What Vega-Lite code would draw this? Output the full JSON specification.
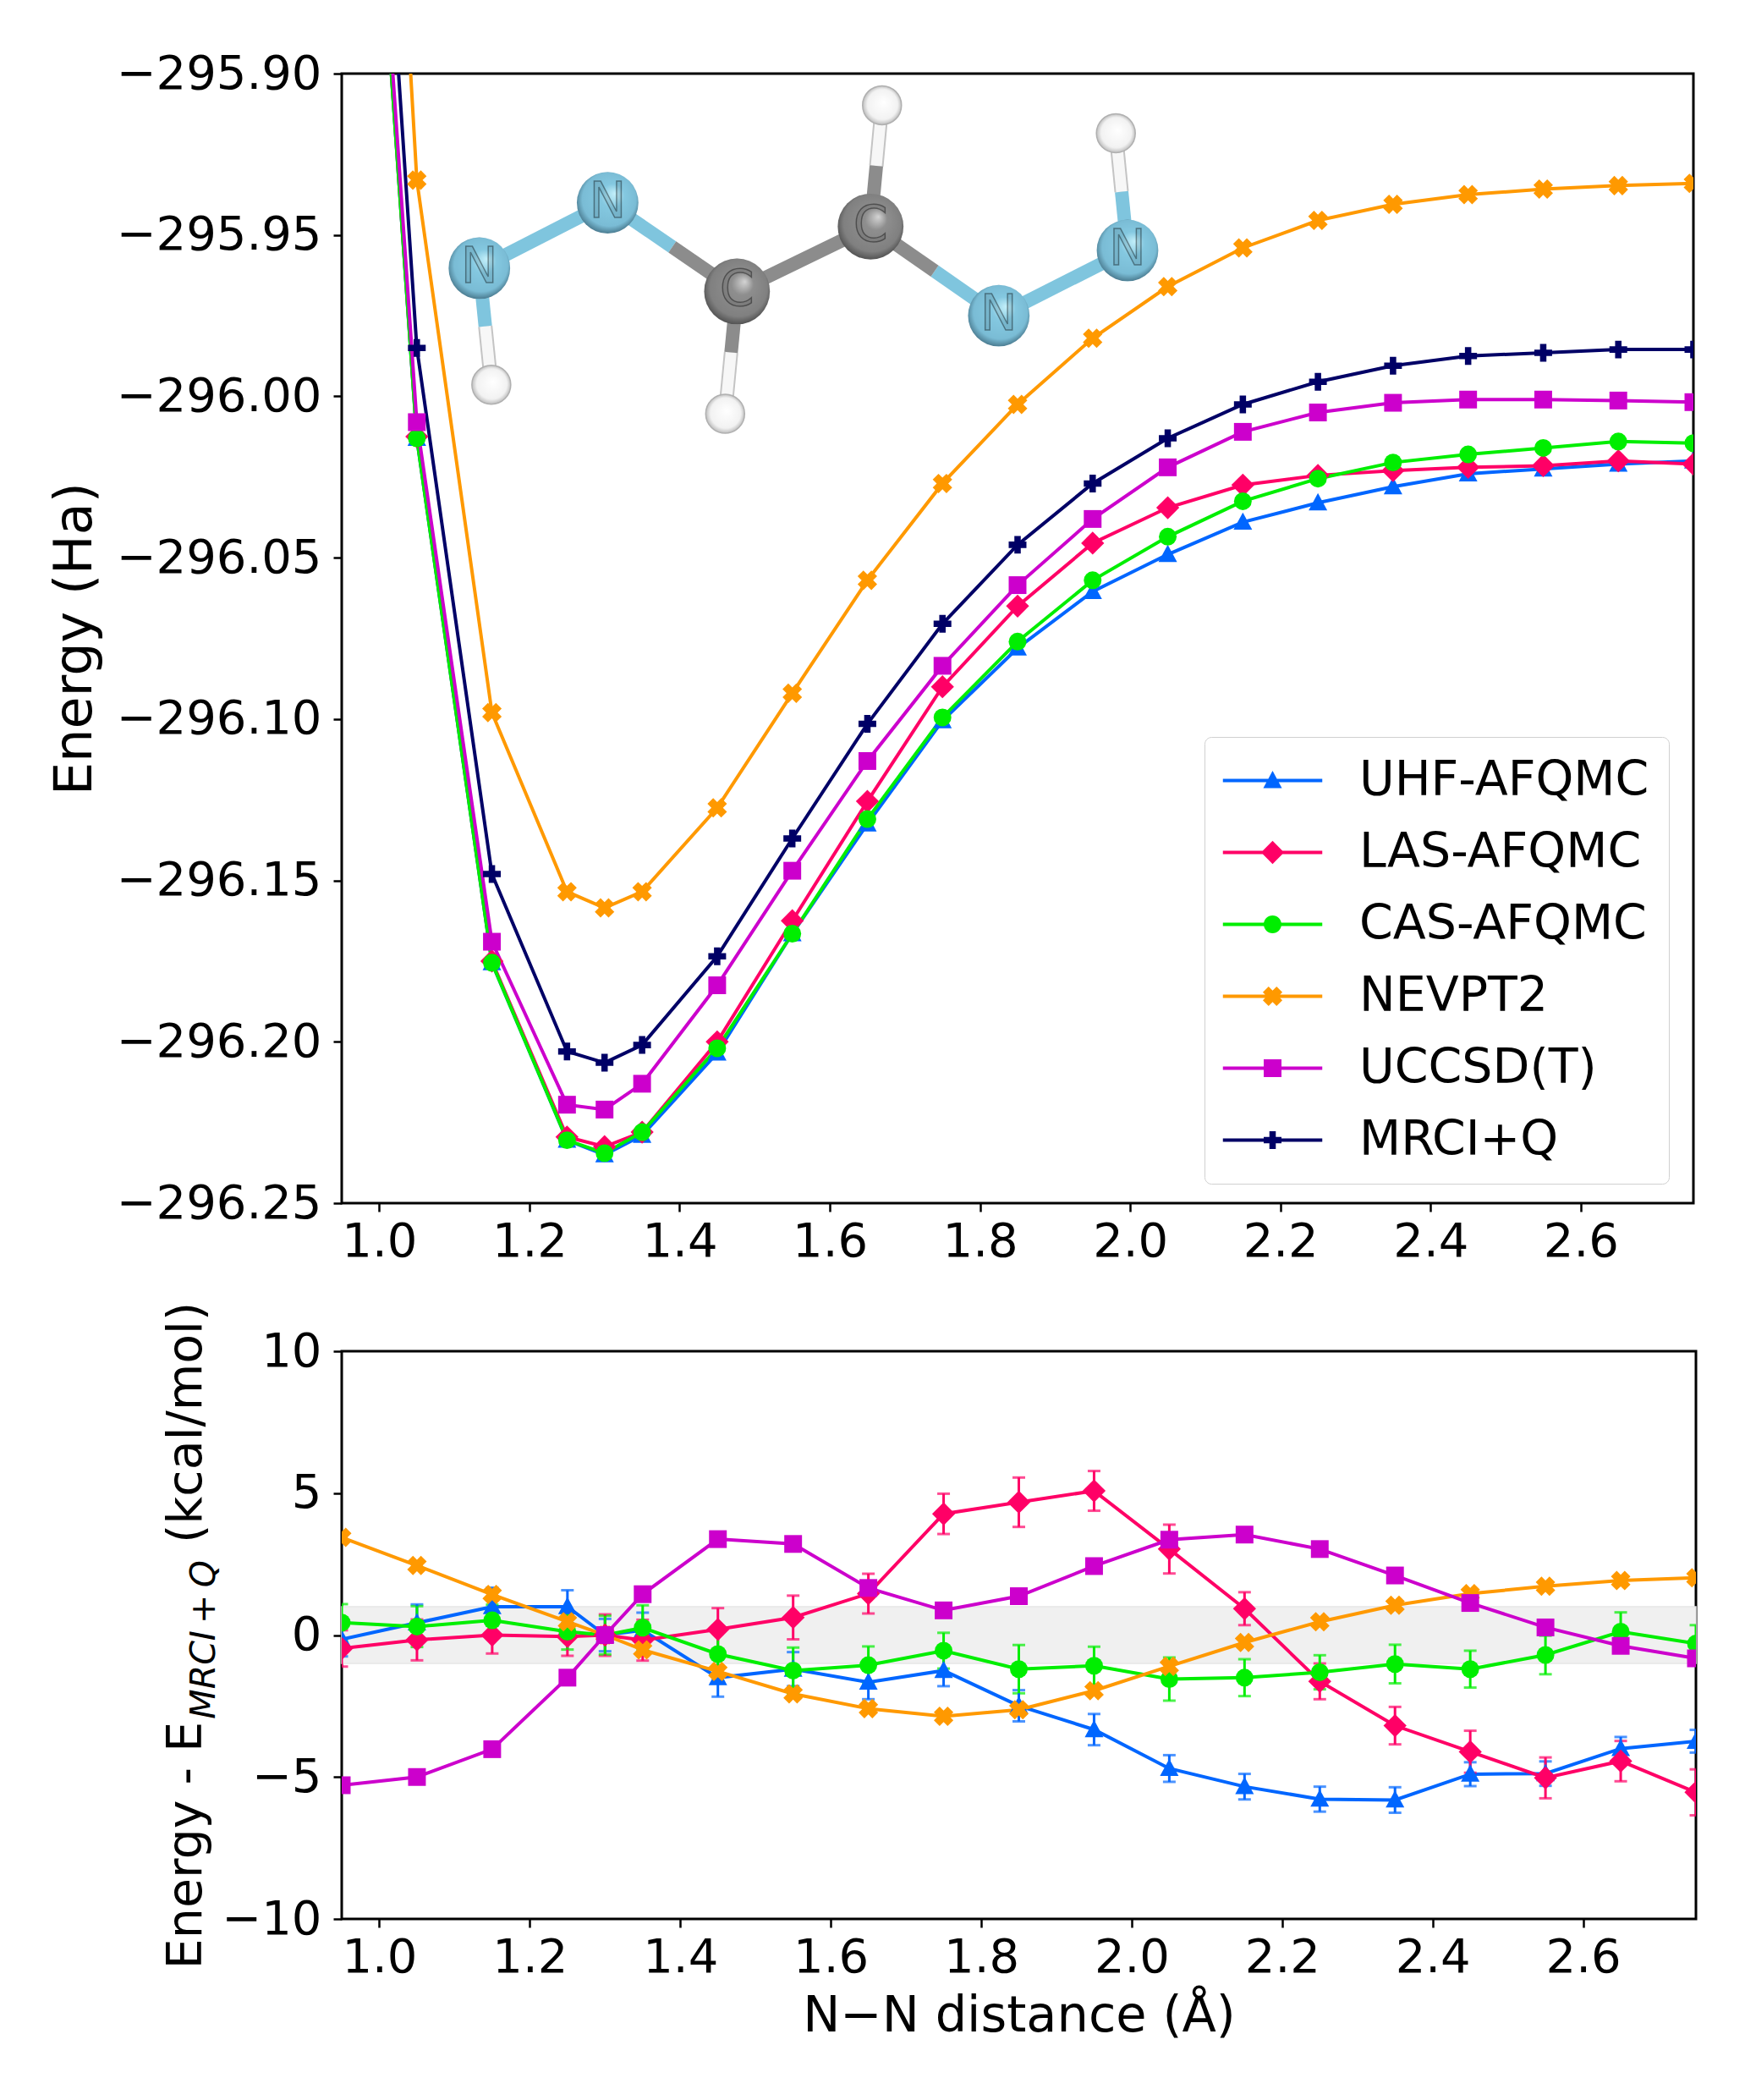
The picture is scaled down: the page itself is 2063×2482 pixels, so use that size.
{
  "$schema": "https://vega.github.io/schema/vega-lite/v6.json",
  "description": "N-N distance scan of HNNCHCHNNH: total energies and errors against MRCI+Q",
  "background": "white",
  "padding": {"left": 55, "top": 57, "right": 0, "bottom": 0},
  "spacing": 39,
  "config": {
    "font": "DejaVu Sans",
    "view": {"stroke": "black", "strokeWidth": 3},
    "axis": {
      "grid": false, "domain": false,
      "tickColor": "black", "tickSize": 10, "tickWidth": 2.5,
      "labelColor": "black", "labelFontSize": 56, "labelFlush": false, "labelOverlap": false, "labelLimit": 500, "maxExtent": 500,
      "titleColor": "black", "titleFontWeight": "normal", "titleLimit": 1200
    },
    "axisX": {"labelPadding": 8},
    "axisY": {"labelPadding": 14}
  },
  "datasets": {
    "energy": [
      {"method":"UHF-AFQMC","r":0.95,"energy":-295.68},{"method":"UHF-AFQMC","r":1.05,"energy":-296.013},{"method":"UHF-AFQMC","r":1.15,"energy":-296.1755},{"method":"UHF-AFQMC","r":1.25,"energy":-296.2305},{"method":"UHF-AFQMC","r":1.3,"energy":-296.235},{"method":"UHF-AFQMC","r":1.35,"energy":-296.229},{"method":"UHF-AFQMC","r":1.45,"energy":-296.2035},{"method":"UHF-AFQMC","r":1.55,"energy":-296.1665},{"method":"UHF-AFQMC","r":1.65,"energy":-296.1325},{"method":"UHF-AFQMC","r":1.75,"energy":-296.1005},{"method":"UHF-AFQMC","r":1.85,"energy":-296.078},{"method":"UHF-AFQMC","r":1.95,"energy":-296.0605},{"method":"UHF-AFQMC","r":2.05,"energy":-296.049},{"method":"UHF-AFQMC","r":2.15,"energy":-296.039},{"method":"UHF-AFQMC","r":2.25,"energy":-296.033},{"method":"UHF-AFQMC","r":2.35,"energy":-296.028},{"method":"UHF-AFQMC","r":2.45,"energy":-296.024},{"method":"UHF-AFQMC","r":2.55,"energy":-296.0225},{"method":"UHF-AFQMC","r":2.65,"energy":-296.021},{"method":"UHF-AFQMC","r":2.75,"energy":-296.02},
      {"method":"LAS-AFQMC","r":0.95,"energy":-295.68},{"method":"LAS-AFQMC","r":1.05,"energy":-296.0125},{"method":"LAS-AFQMC","r":1.15,"energy":-296.175},{"method":"LAS-AFQMC","r":1.25,"energy":-296.2295},{"method":"LAS-AFQMC","r":1.3,"energy":-296.2325},{"method":"LAS-AFQMC","r":1.35,"energy":-296.228},{"method":"LAS-AFQMC","r":1.45,"energy":-296.2},{"method":"LAS-AFQMC","r":1.55,"energy":-296.1625},{"method":"LAS-AFQMC","r":1.65,"energy":-296.1255},{"method":"LAS-AFQMC","r":1.75,"energy":-296.09},{"method":"LAS-AFQMC","r":1.85,"energy":-296.065},{"method":"LAS-AFQMC","r":1.95,"energy":-296.0455},{"method":"LAS-AFQMC","r":2.05,"energy":-296.0345},{"method":"LAS-AFQMC","r":2.15,"energy":-296.0275},{"method":"LAS-AFQMC","r":2.25,"energy":-296.0245},{"method":"LAS-AFQMC","r":2.35,"energy":-296.023},{"method":"LAS-AFQMC","r":2.45,"energy":-296.022},{"method":"LAS-AFQMC","r":2.55,"energy":-296.0215},{"method":"LAS-AFQMC","r":2.65,"energy":-296.02},{"method":"LAS-AFQMC","r":2.75,"energy":-296.021},
      {"method":"CAS-AFQMC","r":0.95,"energy":-295.68},{"method":"CAS-AFQMC","r":1.05,"energy":-296.013},{"method":"CAS-AFQMC","r":1.15,"energy":-296.1755},{"method":"CAS-AFQMC","r":1.25,"energy":-296.2305},{"method":"CAS-AFQMC","r":1.3,"energy":-296.2345},{"method":"CAS-AFQMC","r":1.35,"energy":-296.228},{"method":"CAS-AFQMC","r":1.45,"energy":-296.202},{"method":"CAS-AFQMC","r":1.55,"energy":-296.1665},{"method":"CAS-AFQMC","r":1.65,"energy":-296.131},{"method":"CAS-AFQMC","r":1.75,"energy":-296.0995},{"method":"CAS-AFQMC","r":1.85,"energy":-296.076},{"method":"CAS-AFQMC","r":1.95,"energy":-296.057},{"method":"CAS-AFQMC","r":2.05,"energy":-296.0435},{"method":"CAS-AFQMC","r":2.15,"energy":-296.0325},{"method":"CAS-AFQMC","r":2.25,"energy":-296.0255},{"method":"CAS-AFQMC","r":2.35,"energy":-296.0205},{"method":"CAS-AFQMC","r":2.45,"energy":-296.018},{"method":"CAS-AFQMC","r":2.55,"energy":-296.016},{"method":"CAS-AFQMC","r":2.65,"energy":-296.014},{"method":"CAS-AFQMC","r":2.75,"energy":-296.0145},
      {"method":"NEVPT2","r":0.95,"energy":-295.53},{"method":"NEVPT2","r":1.05,"energy":-295.933},{"method":"NEVPT2","r":1.15,"energy":-296.098},{"method":"NEVPT2","r":1.25,"energy":-296.1535},{"method":"NEVPT2","r":1.3,"energy":-296.1585},{"method":"NEVPT2","r":1.35,"energy":-296.1535},{"method":"NEVPT2","r":1.45,"energy":-296.1275},{"method":"NEVPT2","r":1.55,"energy":-296.092},{"method":"NEVPT2","r":1.65,"energy":-296.057},{"method":"NEVPT2","r":1.75,"energy":-296.027},{"method":"NEVPT2","r":1.85,"energy":-296.0025},{"method":"NEVPT2","r":1.95,"energy":-295.982},{"method":"NEVPT2","r":2.05,"energy":-295.966},{"method":"NEVPT2","r":2.15,"energy":-295.954},{"method":"NEVPT2","r":2.25,"energy":-295.9455},{"method":"NEVPT2","r":2.35,"energy":-295.9405},{"method":"NEVPT2","r":2.45,"energy":-295.9375},{"method":"NEVPT2","r":2.55,"energy":-295.9358},{"method":"NEVPT2","r":2.65,"energy":-295.9347},{"method":"NEVPT2","r":2.75,"energy":-295.934},
      {"method":"UCCSD(T)","r":0.95,"energy":-295.67},{"method":"UCCSD(T)","r":1.05,"energy":-296.008},{"method":"UCCSD(T)","r":1.15,"energy":-296.169},{"method":"UCCSD(T)","r":1.25,"energy":-296.2195},{"method":"UCCSD(T)","r":1.3,"energy":-296.221},{"method":"UCCSD(T)","r":1.35,"energy":-296.213},{"method":"UCCSD(T)","r":1.45,"energy":-296.1825},{"method":"UCCSD(T)","r":1.55,"energy":-296.147},{"method":"UCCSD(T)","r":1.65,"energy":-296.113},{"method":"UCCSD(T)","r":1.75,"energy":-296.0835},{"method":"UCCSD(T)","r":1.85,"energy":-296.0585},{"method":"UCCSD(T)","r":1.95,"energy":-296.038},{"method":"UCCSD(T)","r":2.05,"energy":-296.022},{"method":"UCCSD(T)","r":2.15,"energy":-296.011},{"method":"UCCSD(T)","r":2.25,"energy":-296.005},{"method":"UCCSD(T)","r":2.35,"energy":-296.002},{"method":"UCCSD(T)","r":2.45,"energy":-296.001},{"method":"UCCSD(T)","r":2.55,"energy":-296.001},{"method":"UCCSD(T)","r":2.65,"energy":-296.0013},{"method":"UCCSD(T)","r":2.75,"energy":-296.0018},
      {"method":"MRCI+Q","r":0.95,"energy":-295.635},{"method":"MRCI+Q","r":1.05,"energy":-295.985},{"method":"MRCI+Q","r":1.15,"energy":-296.148},{"method":"MRCI+Q","r":1.25,"energy":-296.203},{"method":"MRCI+Q","r":1.3,"energy":-296.2065},{"method":"MRCI+Q","r":1.35,"energy":-296.201},{"method":"MRCI+Q","r":1.45,"energy":-296.1735},{"method":"MRCI+Q","r":1.55,"energy":-296.137},{"method":"MRCI+Q","r":1.65,"energy":-296.1015},{"method":"MRCI+Q","r":1.75,"energy":-296.0705},{"method":"MRCI+Q","r":1.85,"energy":-296.046},{"method":"MRCI+Q","r":1.95,"energy":-296.027},{"method":"MRCI+Q","r":2.05,"energy":-296.013},{"method":"MRCI+Q","r":2.15,"energy":-296.0025},{"method":"MRCI+Q","r":2.25,"energy":-295.9955},{"method":"MRCI+Q","r":2.35,"energy":-295.9905},{"method":"MRCI+Q","r":2.45,"energy":-295.9875},{"method":"MRCI+Q","r":2.55,"energy":-295.9865},{"method":"MRCI+Q","r":2.65,"energy":-295.9855},{"method":"MRCI+Q","r":2.75,"energy":-295.9855}
    ],
    "relative": [
      {"method":"UHF-AFQMC","r":0.95,"delta":-0.15,"err":0.6},{"method":"UHF-AFQMC","r":1.05,"delta":0.43,"err":0.65},{"method":"UHF-AFQMC","r":1.15,"delta":1.0,"err":0.67},{"method":"UHF-AFQMC","r":1.25,"delta":1.0,"err":0.58},{"method":"UHF-AFQMC","r":1.3,"delta":0,"err":0.57},{"method":"UHF-AFQMC","r":1.35,"delta":0.17,"err":0.62},{"method":"UHF-AFQMC","r":1.45,"delta":-1.5,"err":0.67},{"method":"UHF-AFQMC","r":1.55,"delta":-1.2,"err":0.6},{"method":"UHF-AFQMC","r":1.65,"delta":-1.66,"err":0.6},{"method":"UHF-AFQMC","r":1.75,"delta":-1.25,"err":0.55},{"method":"UHF-AFQMC","r":1.85,"delta":-2.49,"err":0.55},{"method":"UHF-AFQMC","r":1.95,"delta":-3.33,"err":0.55},{"method":"UHF-AFQMC","r":2.05,"delta":-4.7,"err":0.47},{"method":"UHF-AFQMC","r":2.15,"delta":-5.34,"err":0.45},{"method":"UHF-AFQMC","r":2.25,"delta":-5.78,"err":0.44},{"method":"UHF-AFQMC","r":2.35,"delta":-5.81,"err":0.45},{"method":"UHF-AFQMC","r":2.45,"delta":-4.9,"err":0.42},{"method":"UHF-AFQMC","r":2.55,"delta":-4.88,"err":0.43},{"method":"UHF-AFQMC","r":2.65,"delta":-4.0,"err":0.41},{"method":"UHF-AFQMC","r":2.75,"delta":-3.74,"err":0.4},
      {"method":"LAS-AFQMC","r":0.95,"delta":-0.47,"err":0.64},{"method":"LAS-AFQMC","r":1.05,"delta":-0.17,"err":0.72},{"method":"LAS-AFQMC","r":1.15,"delta":0,"err":0.65},{"method":"LAS-AFQMC","r":1.25,"delta":-0.05,"err":0.68},{"method":"LAS-AFQMC","r":1.3,"delta":0,"err":0.73},{"method":"LAS-AFQMC","r":1.35,"delta":-0.18,"err":0.72},{"method":"LAS-AFQMC","r":1.45,"delta":0.2,"err":0.75},{"method":"LAS-AFQMC","r":1.55,"delta":0.62,"err":0.77},{"method":"LAS-AFQMC","r":1.65,"delta":1.46,"err":0.7},{"method":"LAS-AFQMC","r":1.75,"delta":4.27,"err":0.71},{"method":"LAS-AFQMC","r":1.85,"delta":4.68,"err":0.87},{"method":"LAS-AFQMC","r":1.95,"delta":5.08,"err":0.7},{"method":"LAS-AFQMC","r":2.05,"delta":3.03,"err":0.86},{"method":"LAS-AFQMC","r":2.15,"delta":0.93,"err":0.58},{"method":"LAS-AFQMC","r":2.25,"delta":-1.63,"err":0.63},{"method":"LAS-AFQMC","r":2.35,"delta":-3.19,"err":0.66},{"method":"LAS-AFQMC","r":2.45,"delta":-4.11,"err":0.74},{"method":"LAS-AFQMC","r":2.55,"delta":-5.03,"err":0.72},{"method":"LAS-AFQMC","r":2.65,"delta":-4.44,"err":0.71},{"method":"LAS-AFQMC","r":2.75,"delta":-5.54,"err":0.81},
      {"method":"CAS-AFQMC","r":0.95,"delta":0.44,"err":0.65},{"method":"CAS-AFQMC","r":1.05,"delta":0.3,"err":0.72},{"method":"CAS-AFQMC","r":1.15,"delta":0.52,"err":0.55},{"method":"CAS-AFQMC","r":1.25,"delta":0.12,"err":0.63},{"method":"CAS-AFQMC","r":1.3,"delta":0,"err":0.68},{"method":"CAS-AFQMC","r":1.35,"delta":0.26,"err":0.79},{"method":"CAS-AFQMC","r":1.45,"delta":-0.67,"err":0.76},{"method":"CAS-AFQMC","r":1.55,"delta":-1.25,"err":0.81},{"method":"CAS-AFQMC","r":1.65,"delta":-1.06,"err":0.66},{"method":"CAS-AFQMC","r":1.75,"delta":-0.55,"err":0.63},{"method":"CAS-AFQMC","r":1.85,"delta":-1.2,"err":0.85},{"method":"CAS-AFQMC","r":1.95,"delta":-1.08,"err":0.67},{"method":"CAS-AFQMC","r":2.05,"delta":-1.55,"err":0.76},{"method":"CAS-AFQMC","r":2.15,"delta":-1.5,"err":0.65},{"method":"CAS-AFQMC","r":2.25,"delta":-1.31,"err":0.6},{"method":"CAS-AFQMC","r":2.35,"delta":-1.02,"err":0.68},{"method":"CAS-AFQMC","r":2.45,"delta":-1.2,"err":0.65},{"method":"CAS-AFQMC","r":2.55,"delta":-0.7,"err":0.68},{"method":"CAS-AFQMC","r":2.65,"delta":0.12,"err":0.68},{"method":"CAS-AFQMC","r":2.75,"delta":-0.3,"err":0.65},
      {"method":"NEVPT2","r":0.95,"delta":3.44},{"method":"NEVPT2","r":1.05,"delta":2.45},{"method":"NEVPT2","r":1.15,"delta":1.43},{"method":"NEVPT2","r":1.25,"delta":0.47},{"method":"NEVPT2","r":1.3,"delta":0},{"method":"NEVPT2","r":1.35,"delta":-0.52},{"method":"NEVPT2","r":1.45,"delta":-1.28},{"method":"NEVPT2","r":1.55,"delta":-2.07},{"method":"NEVPT2","r":1.65,"delta":-2.59},{"method":"NEVPT2","r":1.75,"delta":-2.86},{"method":"NEVPT2","r":1.85,"delta":-2.63},{"method":"NEVPT2","r":1.95,"delta":-1.96},{"method":"NEVPT2","r":2.05,"delta":-1.1},{"method":"NEVPT2","r":2.15,"delta":-0.26},{"method":"NEVPT2","r":2.25,"delta":0.47},{"method":"NEVPT2","r":2.35,"delta":1.05},{"method":"NEVPT2","r":2.45,"delta":1.46},{"method":"NEVPT2","r":2.55,"delta":1.72},{"method":"NEVPT2","r":2.65,"delta":1.92},{"method":"NEVPT2","r":2.75,"delta":2.02},
      {"method":"UCCSD(T)","r":0.95,"delta":-5.29},{"method":"UCCSD(T)","r":1.05,"delta":-5.0},{"method":"UCCSD(T)","r":1.15,"delta":-4.02},{"method":"UCCSD(T)","r":1.25,"delta":-1.5},{"method":"UCCSD(T)","r":1.3,"delta":0},{"method":"UCCSD(T)","r":1.35,"delta":1.44},{"method":"UCCSD(T)","r":1.45,"delta":3.38},{"method":"UCCSD(T)","r":1.55,"delta":3.21},{"method":"UCCSD(T)","r":1.65,"delta":1.66},{"method":"UCCSD(T)","r":1.75,"delta":0.87},{"method":"UCCSD(T)","r":1.85,"delta":1.37},{"method":"UCCSD(T)","r":1.95,"delta":2.43},{"method":"UCCSD(T)","r":2.05,"delta":3.36},{"method":"UCCSD(T)","r":2.15,"delta":3.54},{"method":"UCCSD(T)","r":2.25,"delta":3.03},{"method":"UCCSD(T)","r":2.35,"delta":2.1},{"method":"UCCSD(T)","r":2.45,"delta":1.13},{"method":"UCCSD(T)","r":2.55,"delta":0.27},{"method":"UCCSD(T)","r":2.65,"delta":-0.38},{"method":"UCCSD(T)","r":2.75,"delta":-0.82}
    ],
    "atoms": [
      {"atom":"H","r":1.1492,"energy":-295.9964},{"atom":"H","r":1.4606,"energy":-296.0054},{"atom":"H","r":1.6695,"energy":-295.9098},{"atom":"H","r":1.9809,"energy":-295.9185},
      {"atom":"N","r":1.1333,"energy":-295.9603},{"atom":"N","r":1.3041,"energy":-295.94},{"atom":"N","r":1.825,"energy":-295.975},{"atom":"N","r":1.9964,"energy":-295.9548},
      {"atom":"C","r":1.4764,"energy":-295.9675},{"atom":"C","r":1.6543,"energy":-295.9474}
    ],
    "bonds": [
      {"atom":"N","r":1.1333,"energy":-295.9603,"r2":1.1412,"energy2":-295.9783},{"atom":"H","r":1.1412,"energy":-295.9783,"r2":1.1492,"energy2":-295.9964},
      {"atom":"N","r":1.1333,"energy":-295.9603,"r2":1.3041,"energy2":-295.94},
      {"atom":"N","r":1.3041,"energy":-295.94,"r2":1.3902,"energy2":-295.9537},{"atom":"C","r":1.3902,"energy":-295.9537,"r2":1.4764,"energy2":-295.9675},
      {"atom":"C","r":1.4764,"energy":-295.9675,"r2":1.4685,"energy2":-295.9864},{"atom":"H","r":1.4685,"energy":-295.9864,"r2":1.4606,"energy2":-296.0054},
      {"atom":"C","r":1.4764,"energy":-295.9675,"r2":1.6543,"energy2":-295.9474},
      {"atom":"C","r":1.6543,"energy":-295.9474,"r2":1.6619,"energy2":-295.9286},{"atom":"H","r":1.6619,"energy":-295.9286,"r2":1.6695,"energy2":-295.9098},
      {"atom":"C","r":1.6543,"energy":-295.9474,"r2":1.7396,"energy2":-295.9612},{"atom":"N","r":1.7396,"energy":-295.9612,"r2":1.825,"energy2":-295.975},
      {"atom":"N","r":1.825,"energy":-295.975,"r2":1.9964,"energy2":-295.9548},
      {"atom":"N","r":1.9964,"energy":-295.9548,"r2":1.9886,"energy2":-295.9366},{"atom":"H","r":1.9886,"energy":-295.9366,"r2":1.9809,"energy2":-295.9185}
    ]
  },
  "vconcat": [
    {
      "width": 1598,
      "height": 1335,
      "layer": [
        {
          "data": {"name": "bonds"},
          "transform": [{"filter": "datum.atom === 'H'"}],
          "mark": {"type": "rule", "stroke": "#c4c4c4", "strokeWidth": 17},
          "encoding": {
            "x": {"field": "r", "type": "quantitative", "scale": {"domain": [0.95, 2.75], "nice": false, "zero": false}},
            "y": {"field": "energy", "type": "quantitative", "scale": {"domain": [-296.25, -295.9], "nice": false, "zero": false}},
            "x2": {"field": "r2"},
            "y2": {"field": "energy2"}
          }
        },
        {
          "data": {"name": "bonds"},
          "transform": [{"filter": "datum.atom === 'H'"}],
          "mark": {"type": "rule", "stroke": "#f7f7f7", "strokeWidth": 13},
          "encoding": {
            "x": {"field": "r", "type": "quantitative"},
            "y": {"field": "energy", "type": "quantitative"},
            "x2": {"field": "r2"},
            "y2": {"field": "energy2"}
          }
        },
        {
          "data": {"name": "bonds"},
          "transform": [{"filter": "datum.atom === 'N'"}],
          "mark": {"type": "rule", "stroke": "#7fc5de", "strokeWidth": 16},
          "encoding": {
            "x": {"field": "r", "type": "quantitative"},
            "y": {"field": "energy", "type": "quantitative"},
            "x2": {"field": "r2"},
            "y2": {"field": "energy2"}
          }
        },
        {
          "data": {"name": "bonds"},
          "transform": [{"filter": "datum.atom === 'C'"}],
          "mark": {"type": "rule", "stroke": "#8c8c8c", "strokeWidth": 16},
          "encoding": {
            "x": {"field": "r", "type": "quantitative"},
            "y": {"field": "energy", "type": "quantitative"},
            "x2": {"field": "r2"},
            "y2": {"field": "energy2"}
          }
        },
        {
          "data": {"name": "atoms"},
          "transform": [{"filter": "datum.atom === 'H'"}],
          "mark": {
            "type": "point", "shape": "circle", "size": 2116, "filled": true, "opacity": 1, "stroke": "#b0b0b0", "strokeWidth": 1.5,
            "fill": {"gradient": "radial", "x1": 0.55, "y1": 0.42, "r1": 0, "x2": 0.5, "y2": 0.5, "r2": 0.52, "stops": [{"offset": 0, "color": "#ffffff"}, {"offset": 0.75, "color": "#f2f2f2"}, {"offset": 1, "color": "#b5b5b5"}]}
          },
          "encoding": {"x": {"field": "r", "type": "quantitative"}, "y": {"field": "energy", "type": "quantitative"}}
        },
        {
          "data": {"name": "atoms"},
          "transform": [{"filter": "datum.atom === 'N'"}],
          "mark": {
            "type": "point", "shape": "circle", "size": 5300, "filled": true, "opacity": 1,
            "fill": {"gradient": "radial", "x1": 0.62, "y1": 0.35, "r1": 0, "x2": 0.5, "y2": 0.47, "r2": 0.56, "stops": [{"offset": 0, "color": "#c4f0fa"}, {"offset": 0.35, "color": "#84c8e0"}, {"offset": 0.78, "color": "#7abcd5"}, {"offset": 1, "color": "#3f6c80"}]}
          },
          "encoding": {"x": {"field": "r", "type": "quantitative"}, "y": {"field": "energy", "type": "quantitative"}}
        },
        {
          "data": {"name": "atoms"},
          "transform": [{"filter": "datum.atom === 'C'"}],
          "mark": {
            "type": "point", "shape": "circle", "size": 6050, "filled": true, "opacity": 1,
            "fill": {"gradient": "radial", "x1": 0.62, "y1": 0.35, "r1": 0, "x2": 0.5, "y2": 0.47, "r2": 0.56, "stops": [{"offset": 0, "color": "#d4d4d4"}, {"offset": 0.3, "color": "#8e8e8e"}, {"offset": 0.78, "color": "#808080"}, {"offset": 1, "color": "#474747"}]}
          },
          "encoding": {"x": {"field": "r", "type": "quantitative"}, "y": {"field": "energy", "type": "quantitative"}}
        },
        {
          "data": {"name": "atoms"},
          "transform": [{"filter": "datum.atom !== 'H'"}],
          "mark": {"type": "text", "fontSize": 58, "fill": "#000000", "fillOpacity": 0.08, "stroke": "#000000", "strokeOpacity": 0.4, "strokeWidth": 1.5, "baseline": "middle", "align": "center"},
          "encoding": {"x": {"field": "r", "type": "quantitative"}, "y": {"field": "energy", "type": "quantitative"}, "text": {"field": "atom"}}
        },
        {
          "data": {"name": "energy"},
          "mark": {"type": "line", "strokeWidth": 4, "clip": true},
          "encoding": {
            "x": {
              "field": "r", "type": "quantitative",
              "axis": {"values": [1.0, 1.2, 1.4, 1.6, 1.8, 2.0, 2.2, 2.4, 2.6], "format": ".1f", "title": null}
            },
            "y": {
              "field": "energy", "type": "quantitative",
              "axis": {"values": [-296.25, -296.2, -296.15, -296.1, -296.05, -296.0, -295.95, -295.9], "format": ".2f", "title": "Energy (Ha)", "titleFontSize": 62, "titlePadding": 17}
            },
            "color": {
              "field": "method", "type": "nominal",
              "scale": {"domain": ["UHF-AFQMC", "LAS-AFQMC", "CAS-AFQMC", "NEVPT2", "UCCSD(T)", "MRCI+Q"], "range": ["#0066ff", "#ff0066", "#00ee00", "#ff9900", "#cc00cc", "#000066"]}
            }
          }
        },
        {
          "data": {"name": "energy"},
          "transform": [{"filter": "datum.method === 'UHF-AFQMC'"}],
          "mark": {"type": "point", "filled": true, "opacity": 1, "size": 440, "clip": true, "color": "#0066ff", "shape": "M0,-1.1L1.05,.85H-1.05Z"},
          "encoding": {"x": {"field": "r", "type": "quantitative"}, "y": {"field": "energy", "type": "quantitative"}}
        },
        {
          "data": {"name": "energy"},
          "transform": [{"filter": "datum.method === 'LAS-AFQMC'"}],
          "mark": {"type": "point", "filled": true, "opacity": 1, "size": 440, "clip": true, "color": "#ff0066", "shape": "M0,-1.3L1.3,0L0,1.3L-1.3,0Z"},
          "encoding": {"x": {"field": "r", "type": "quantitative"}, "y": {"field": "energy", "type": "quantitative"}}
        },
        {
          "data": {"name": "energy"},
          "transform": [{"filter": "datum.method === 'CAS-AFQMC'"}],
          "mark": {"type": "point", "filled": true, "opacity": 1, "size": 440, "clip": true, "color": "#00ee00", "shape": "circle"},
          "encoding": {"x": {"field": "r", "type": "quantitative"}, "y": {"field": "energy", "type": "quantitative"}}
        },
        {
          "data": {"name": "energy"},
          "transform": [{"filter": "datum.method === 'NEVPT2'"}],
          "mark": {"type": "point", "filled": true, "opacity": 1, "size": 440, "clip": true, "color": "#ff9900", "shape": "M-.45,-1.1L0,-.65L.45,-1.1L1.1,-.45L.65,0L1.1,.45L.45,1.1L0,.65L-.45,1.1L-1.1,.45L-.65,0L-1.1,-.45Z"},
          "encoding": {"x": {"field": "r", "type": "quantitative"}, "y": {"field": "energy", "type": "quantitative"}}
        },
        {
          "data": {"name": "energy"},
          "transform": [{"filter": "datum.method === 'UCCSD(T)'"}],
          "mark": {"type": "point", "filled": true, "opacity": 1, "size": 440, "clip": true, "color": "#cc00cc", "shape": "square"},
          "encoding": {"x": {"field": "r", "type": "quantitative"}, "y": {"field": "energy", "type": "quantitative"}}
        },
        {
          "data": {"name": "energy"},
          "transform": [{"filter": "datum.method === 'MRCI+Q'"}],
          "mark": {"type": "point", "filled": true, "opacity": 1, "size": 440, "clip": true, "color": "#000066", "shape": "M-.36,-1H.36V-.36H1V.36H.36V1H-.36V.36H-1V-.36H-.36Z"},
          "encoding": {"x": {"field": "r", "type": "quantitative"}, "y": {"field": "energy", "type": "quantitative"}}
        },
        {
          "data": {"name": "energy"},
          "mark": {"type": "point", "filled": true, "opacity": 0, "size": 440, "clip": true},
          "encoding": {
            "x": {"field": "r", "type": "quantitative"},
            "y": {"field": "energy", "type": "quantitative"},
            "color": {
              "field": "method", "type": "nominal",
              "legend": {
                "orient": "none", "legendX": 1020, "legendY": 784, "title": null,
                "labelFontSize": 57, "labelColor": "black", "labelOffset": 74, "labelLimit": 500,
                "symbolSize": 440, "symbolOffset": 29, "symbolOpacity": 1, "symbolStrokeWidth": 0,
                "rowPadding": 27, "padding": 23,
                "fillColor": "white", "strokeColor": "#d0d0d0", "cornerRadius": 8
              }
            },
            "shape": {
              "field": "method", "type": "nominal",
              "legend": {
                "orient": "none", "legendX": 1020, "legendY": 784, "title": null,
                "labelFontSize": 57, "labelColor": "black", "labelOffset": 74, "labelLimit": 500,
                "symbolSize": 440, "symbolOffset": 29, "symbolOpacity": 1, "symbolStrokeWidth": 0,
                "rowPadding": 27, "padding": 23,
                "fillColor": "white", "strokeColor": "#d0d0d0", "cornerRadius": 8
              },
              "scale": {
                "domain": ["UHF-AFQMC", "LAS-AFQMC", "CAS-AFQMC", "NEVPT2", "UCCSD(T)", "MRCI+Q"],
                "range": [
                  "M-5.6,-.18H5.6V.18H-5.6ZM0,-1.1L1.05,.85H-1.05Z",
                  "M-5.6,-.18H5.6V.18H-5.6ZM0,-1.3L1.3,0L0,1.3L-1.3,0Z",
                  "M-5.6,-.18H5.6V.18H-5.6ZM-1,0A1,1 0 1 1 1,0A1,1 0 1 1 -1,0Z",
                  "M-5.6,-.18H5.6V.18H-5.6ZM-.45,-1.1L0,-.65L.45,-1.1L1.1,-.45L.65,0L1.1,.45L.45,1.1L0,.65L-.45,1.1L-1.1,.45L-.65,0L-1.1,-.45Z",
                  "M-5.6,-.18H5.6V.18H-5.6ZM-1,-1H1V1H-1Z",
                  "M-5.6,-.18H5.6V.18H-5.6ZM-.36,-1H.36V-.36H1V.36H.36V1H-.36V.36H-1V-.36H-.36Z"
                ]
              }
            }
          }
        }
      ]
    },
    {
      "width": 1601,
      "height": 671,
      "layer": [
        {
          "data": {"values": [{"low": -1, "high": 1}]},
          "mark": {"type": "rect", "fill": "#f0f0f0", "stroke": "#e6e6e6", "strokeWidth": 1.5},
          "encoding": {
            "y": {
              "field": "low", "type": "quantitative",
              "scale": {"domain": [-10, 10], "nice": false, "zero": false},
              "axis": {"values": [-10, -5, 0, 5, 10], "title": "Energy - E\u2003\u2003\u2003\u2002\u2009(kcal/mol)", "titleFontSize": 57, "titlePadding": 12}
            },
            "y2": {"field": "high"}
          }
        },
        {
          "data": {"name": "relative"},
          "mark": {"type": "line", "strokeWidth": 4, "clip": true},
          "encoding": {
            "x": {
              "field": "r", "type": "quantitative",
              "scale": {"domain": [0.95, 2.75], "nice": false, "zero": false},
              "axis": {"values": [1.0, 1.2, 1.4, 1.6, 1.8, 2.0, 2.2, 2.4, 2.6], "format": ".1f", "title": "N\u2212N distance (\u00c5)", "titleFontSize": 59, "titlePadding": 12}
            },
            "y": {"field": "delta", "type": "quantitative"},
            "color": {
              "field": "method", "type": "nominal", "legend": null,
              "scale": {"domain": ["UHF-AFQMC", "LAS-AFQMC", "CAS-AFQMC", "NEVPT2", "UCCSD(T)", "MRCI+Q"], "range": ["#0066ff", "#ff0066", "#00ee00", "#ff9900", "#cc00cc", "#000066"]}
            }
          }
        },
        {
          "data": {"name": "relative"},
          "transform": [{"filter": "isValid(datum.err)"}],
          "mark": {"type": "errorbar", "clip": true, "ticks": {"size": 15, "thickness": 3}, "rule": {"strokeWidth": 3}},
          "encoding": {
            "x": {"field": "r", "type": "quantitative", "title": "N\u2212N distance (\u00c5)"},
            "y": {"field": "delta", "type": "quantitative", "title": "Energy - E\u2003\u2003\u2003\u2002\u2009(kcal/mol)"},
            "yError": {"field": "err"},
            "color": {"field": "method", "type": "nominal", "legend": null}
          }
        },
        {
          "data": {"name": "relative"},
          "transform": [{"filter": "datum.method === 'UHF-AFQMC'"}],
          "mark": {"type": "point", "filled": true, "opacity": 1, "size": 440, "clip": true, "color": "#0066ff", "shape": "M0,-1.1L1.05,.85H-1.05Z"},
          "encoding": {"x": {"field": "r", "type": "quantitative"}, "y": {"field": "delta", "type": "quantitative"}}
        },
        {
          "data": {"name": "relative"},
          "transform": [{"filter": "datum.method === 'LAS-AFQMC'"}],
          "mark": {"type": "point", "filled": true, "opacity": 1, "size": 440, "clip": true, "color": "#ff0066", "shape": "M0,-1.3L1.3,0L0,1.3L-1.3,0Z"},
          "encoding": {"x": {"field": "r", "type": "quantitative"}, "y": {"field": "delta", "type": "quantitative"}}
        },
        {
          "data": {"name": "relative"},
          "transform": [{"filter": "datum.method === 'CAS-AFQMC'"}],
          "mark": {"type": "point", "filled": true, "opacity": 1, "size": 440, "clip": true, "color": "#00ee00", "shape": "circle"},
          "encoding": {"x": {"field": "r", "type": "quantitative"}, "y": {"field": "delta", "type": "quantitative"}}
        },
        {
          "data": {"name": "relative"},
          "transform": [{"filter": "datum.method === 'NEVPT2'"}],
          "mark": {"type": "point", "filled": true, "opacity": 1, "size": 440, "clip": true, "color": "#ff9900", "shape": "M-.45,-1.1L0,-.65L.45,-1.1L1.1,-.45L.65,0L1.1,.45L.45,1.1L0,.65L-.45,1.1L-1.1,.45L-.65,0L-1.1,-.45Z"},
          "encoding": {"x": {"field": "r", "type": "quantitative"}, "y": {"field": "delta", "type": "quantitative"}}
        },
        {
          "data": {"name": "relative"},
          "transform": [{"filter": "datum.method === 'UCCSD(T)'"}],
          "mark": {"type": "point", "filled": true, "opacity": 1, "size": 440, "clip": true, "color": "#cc00cc", "shape": "square"},
          "encoding": {"x": {"field": "r", "type": "quantitative"}, "y": {"field": "delta", "type": "quantitative"}}
        },
        {
          "data": {"values": [{"label": "MRCI\u2009+\u2009Q"}]},
          "mark": {"type": "text", "angle": 270, "fontSize": 41, "fontStyle": "italic", "fill": "black", "align": "center", "baseline": "alphabetic"},
          "encoding": {
            "x": {"datum": 0.781, "type": "quantitative"},
            "y": {"datum": -0.16, "type": "quantitative"},
            "text": {"field": "label"}
          }
        }
      ]
    }
  ]
}
